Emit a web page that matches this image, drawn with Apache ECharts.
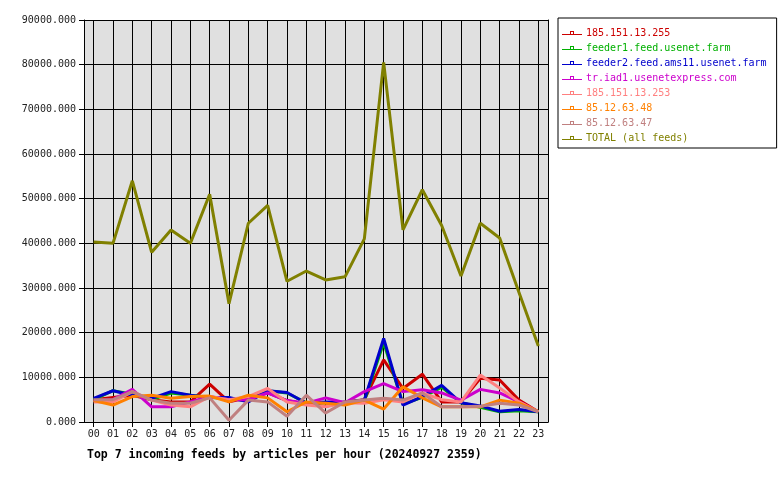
<!DOCTYPE html>
<html>
<head>
<meta charset="utf-8">
<script src="https://cdn.jsdelivr.net/npm/echarts@6/dist/echarts.min.js"></script>
<style>html,body{margin:0;padding:0;background:#fff;}#c{width:780px;height:480px;}</style>
</head>
<body>
<div id="c"></div>
<script>
const hours = ['00','01','02','03','04','05','06','07','08','09','10','11','12','13','14','15','16','17','18','19','20','21','22','23'];
const yTicks = [0, 10000, 20000, 30000, 40000, 50000, 60000, 70000, 80000, 90000];
const seriesNames = ['185.151.13.255','feeder1.feed.usenet.farm','feeder2.feed.ams11.usenet.farm','tr.iad1.usenetexpress.com','185.151.13.253','85.12.63.48','85.12.63.47','TOTAL (all feeds)'];
const seriesColors = ['#cc0000','#00b000','#0000cc','#cc00cc','#ff8080','#ff8000','#c08080','#808000'];
const feed185_255 = [5000,5500,6000,5000,4500,4500,8500,4500,5500,6500,4800,4000,3500,4500,5000,13900,7500,10700,4500,4500,9800,9400,4900,2300];
const feedFeeder1 = [5000,7000,6200,5000,6500,6000,5500,5300,4700,7000,6500,4300,4300,4300,4700,17800,4000,5500,7800,4300,3300,2300,2500,2300];
const feedFeeder2 = [5300,7000,6000,5300,6800,6000,5500,5500,4500,7000,6600,4200,4500,4400,4900,18700,3800,5700,8200,4300,3600,2400,2800,2300];
const feedTrIad1 = [4800,5000,7300,3400,3400,4500,5700,5000,5000,6500,4800,4200,5400,4300,6800,8600,6800,7200,6500,4900,7300,6500,4500,2300];
const feed185_253 = [4500,4500,6800,4900,3800,3400,5700,5000,5700,7500,4500,3800,3400,4300,4200,5000,4500,6500,5000,4500,10500,7600,4500,2300];
const feed85_48 = [4800,3800,5700,6000,5300,5700,5800,4500,6000,5400,2300,4500,4200,3800,4900,2900,7900,5400,3400,3400,3400,4900,4200,2300];
const feed85_47 = [5000,5000,6800,4900,4200,4200,5400,400,4900,4500,1300,6000,2000,4500,4900,5300,4900,6500,3400,3400,3500,4200,3800,2300];
const feedTotal = [40300,40000,54000,38000,43000,40000,51000,26500,44500,48500,31500,33800,31800,32500,41000,80500,43000,52000,44000,32700,44500,41200,29000,17000];
const seriesData = [feed185_255, feedFeeder1, feedFeeder2, feedTrIad1, feed185_253, feed85_48, feed85_47, feedTotal];

const mono = 'DejaVu Sans Mono';
const chart = echarts.init(document.getElementById('c'), null, {renderer: 'canvas'});
const legendIcon = 'path://M0,5H8V2H12V5H20V6H0Z M9,3V5H11V3Z';
chart.setOption({
  animation: false,
  backgroundColor: '#ffffff',
  color: seriesColors,
  title: {
    text: 'Top 7 incoming feeds by articles per hour (20240927 2359)',
    left: 82, top: 444,
    textStyle: {fontFamily: mono, fontSize: 11.5, fontWeight: 'bold', color: '#000'}
  },
  legend: {
    orient: 'vertical',
    left: 558, top: 18,
    padding: [9, 10, 4, 4],
    borderColor: '#000', borderWidth: 1,
    itemWidth: 20, itemHeight: 10, itemGap: 3,
    icon: legendIcon,
    data: seriesNames.map((n, i) => ({name: n, textStyle: {color: seriesColors[i]}})),
    textStyle: {fontFamily: mono, fontSize: 10, lineHeight: 12, padding: [0,0,0,-1]}
  },
  grid: {left: 84, right: 232, top: 20, bottom: 58},
  xAxis: {
    type: 'category',
    data: hours,
    boundaryGap: true,
    axisLine: {show: true, lineStyle: {color: '#000', width: 1}},
    axisTick: {show: true, alignWithLabel: true, length: 5, lineStyle: {color: '#000'}},
    axisLabel: {fontFamily: mono, fontSize: 10, color: '#222', margin: 7},
    splitLine: {show: true, alignWithLabel: true, lineStyle: {color: '#000', width: 1}}
  },
  yAxis: [{
    type: 'value',
    min: yTicks[0], max: yTicks[yTicks.length - 1], interval: yTicks[1] - yTicks[0],
    axisLine: {show: true, lineStyle: {color: '#000'}},
    axisTick: {show: true, length: 5, lineStyle: {color: '#000'}},
    axisLabel: {fontFamily: mono, fontSize: 10, color: '#222', margin: 8, formatter: v => v.toFixed(3)},
    splitLine: {show: true, lineStyle: {color: '#000', width: 1}},
    splitArea: {show: true, areaStyle: {color: ['#e0e0e0', '#e0e0e0']}}
  }, {
    type: 'value', position: 'right',
    min: yTicks[0], max: yTicks[yTicks.length - 1], interval: yTicks[1] - yTicks[0],
    axisLine: {show: true, lineStyle: {color: '#000'}},
    axisTick: {show: false}, axisLabel: {show: false}, splitLine: {show: false}
  }],
  series: seriesNames.map((name, i) => ({
    name: name,
    type: 'line',
    data: seriesData[i],
    showSymbol: false,
    symbol: 'rect',
    lineStyle: {width: 3, color: seriesColors[i]},
    itemStyle: {color: seriesColors[i]},
    emphasis: {disabled: true},
    z: 2 + i
  }))
});
</script>
</body>
</html>
